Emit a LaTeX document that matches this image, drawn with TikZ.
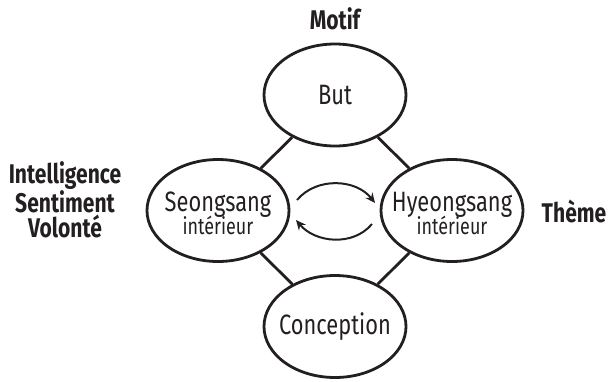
\documentclass[tikz,border=0pt]{standalone}
\usepackage{fontspec}
\setmainfont{Fira Sans}[FakeStretch=0.78]
\usetikzlibrary{arrows.meta,shapes.geometric}
\definecolor{ink}{HTML}{231F20}
\begin{document}
\begin{tikzpicture}[x=1pt,y=-1pt,
  bubble/.style={draw=ink,line width=2.8pt,ellipse,minimum width=142pt,minimum height=102pt,inner sep=0pt},
  txt/.style={text=ink,align=center,inner sep=0pt},
  link/.style={draw=ink,line width=2.8pt},
  swap/.style={draw=ink,line width=2pt,-{Stealth[length=10pt,width=9pt,inset=3.5pt]}},
  big/.style={font=\fontsize{28}{30}\selectfont},
  lab/.style={text=ink,font=\bfseries\fontsize{27}{25}\selectfont,align=center}]
\useasboundingbox (0,0) rectangle (609,381);
\node[bubble] (but) at (335,95) {};
\node[bubble] (seong) at (218,210.5) {};
\node[bubble] (hyeong) at (452,210.5) {};
\node[bubble] (conc) at (335,326.5) {};
\node[txt,big] (butt) at (but) {But};
\node[txt] (seongt) at ([yshift=-3pt]seong.center) {{\fontsize{28}{24}\selectfont Seongsang}\\[-2pt]{\fontsize{23}{22}\selectfont intérieur}};
\node[txt] (hyeongt) at ([yshift=-3pt]hyeong.center) {{\fontsize{28}{24}\selectfont Hyeongsang}\\[-2pt]{\fontsize{23}{22}\selectfont intérieur}};
\node[txt,big] (conct) at (conc) {Conception};
\draw[link] (but) -- (seong);
\draw[link] (but) -- (hyeong);
\draw[link] (conc) -- (seong);
\draw[link] (conc) -- (hyeong);
\node[lab] (motif) at (335,19) {Motif};
\node[lab,align=center] (isv) at (65,200) {Intelligence\\Sentiment\\Volonté};
\node[lab] (theme) at (574,211) {Thème};
\coordinate (a1) at (297,200);
\coordinate (a2) at (375,203);
\coordinate (b1) at (372,224);
\coordinate (b2) at (296,220);
\draw[swap] (a1) to[out=50,in=128] (a2);
\draw[swap] (b1) to[out=-130,in=-50] (b2);
\end{tikzpicture}
\end{document}
